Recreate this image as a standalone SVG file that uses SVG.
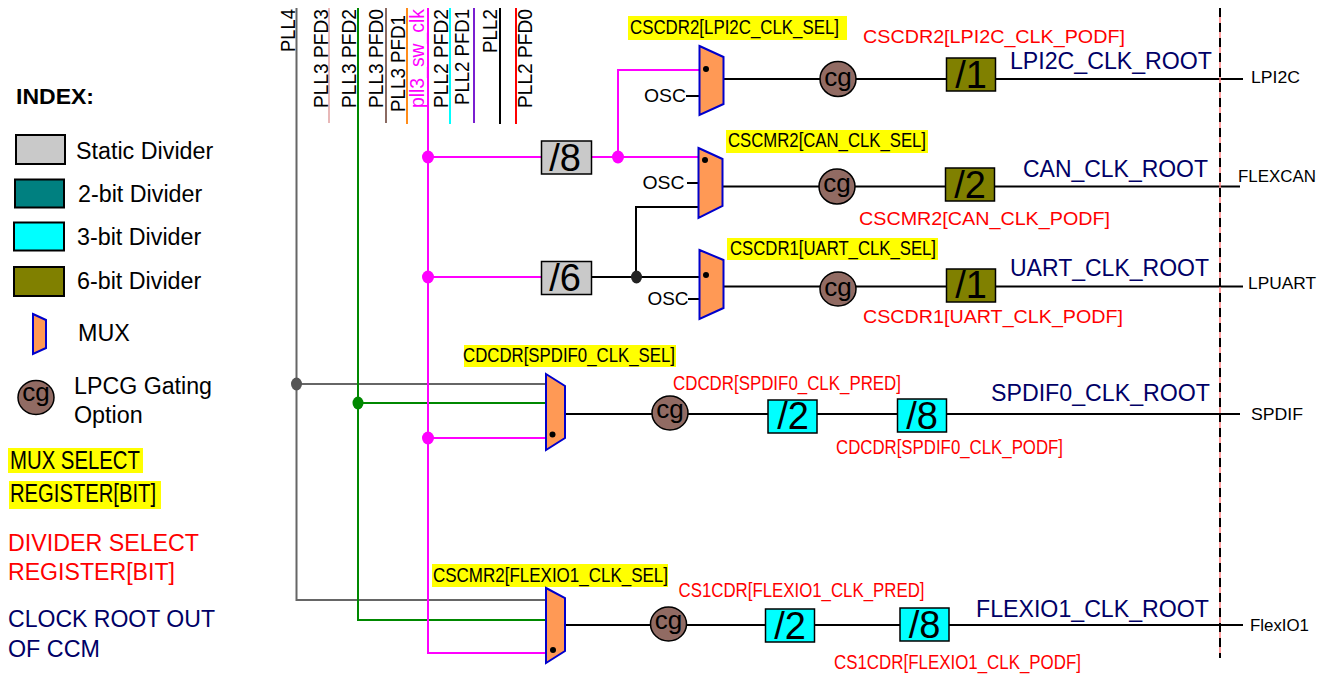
<svg xmlns="http://www.w3.org/2000/svg" width="1328" height="675" viewBox="0 0 1328 675">
<style>
text{font-family:"Liberation Sans",Arial,sans-serif;fill:#000}
.mux{fill:#ff9955;stroke:#0000cc;stroke-width:2}
.cg{fill:#916b63;stroke:#000;stroke-width:1.5}
.cgt{font-size:26px;text-anchor:middle}
.div{stroke:#000;stroke-width:1.5}
.dt{font-size:38px;text-anchor:middle}
.s{fill:#c9c9c9}.o{fill:#808000}.y{fill:#00ffff}
.hl{fill:#ffff00}
.sel{font-size:21px}
.red{font-size:20px;fill:#ff0000}
.root{font-size:23px;fill:#000066}
.out{font-size:17px}
.osc{font-size:19px}
.lg{font-size:23.300px}
.src{font-size:20px}
</style>
<rect width="1328" height="675" fill="#fff"/>
<g id="connectors" fill="none" stroke-width="2">
<path d="M329 8V123" stroke="#e8b8b8"/>
<path d="M386 8V123" stroke="#8a6a62"/>
<path d="M407 8V124" stroke="#ff8c1a"/>
<path d="M450 8V124" stroke="#00ffff"/>
<path d="M474 8V123" stroke="#7a1fd0"/>
<path d="M500 8V124" stroke="#000"/>
<path d="M516 8V124" stroke="#ff0000"/>
<path d="M296.500 8V600H546M297 384H546" stroke="#666"/>
<path d="M358 8V620H546M358 403H546" stroke="#008800"/>
<path d="M428 8V653H546M428 157H541M592 157H698M618 157V70H699M428 277H541M428 438H546" stroke="#ff00ff"/>
<path d="M592 277H699M636 277V207H698" stroke="#000"/>
<path d="M686 96H699M687 183H698M688 299H699" stroke="#000"/>
<path d="M724 79H1243M723 186.500H1240M724 286.500H1243M565 414H1240M566 625H1243" stroke="#000"/>
<path d="M1220 8V658" stroke="#ff8080" stroke-width="1.500"/>
<path d="M1220 8V658" stroke="#000" stroke-dasharray="9 6"/>
<g stroke="none"><ellipse cx="428" cy="157" rx="6" ry="6.500" fill="#ff00ff"/><ellipse cx="618" cy="157" rx="6" ry="6.500" fill="#ff00ff"/><ellipse cx="428" cy="277" rx="6" ry="6.500" fill="#ff00ff"/><ellipse cx="428" cy="438" rx="6" ry="6.500" fill="#ff00ff"/><ellipse cx="636.500" cy="277" rx="5.500" ry="6.500" fill="#222"/><ellipse cx="296.500" cy="384" rx="5.500" ry="6.500" fill="#555"/><ellipse cx="358" cy="403" rx="5.500" ry="6.500" fill="#008800"/></g>
</g>
<g id="sources">
<text class="src" transform="translate(295,52) rotate(-90)" textLength="43" lengthAdjust="spacingAndGlyphs">PLL4</text>
<text class="src" transform="translate(327.500,108) rotate(-90)" textLength="99" lengthAdjust="spacingAndGlyphs">PLL3 PFD3</text>
<text class="src" transform="translate(356,108) rotate(-90)" textLength="99" lengthAdjust="spacingAndGlyphs">PLL3 PFD2</text>
<text class="src" transform="translate(383,108) rotate(-90)" textLength="99" lengthAdjust="spacingAndGlyphs">PLL3 PFD0</text>
<text class="src" transform="translate(405,112) rotate(-90)" textLength="97" lengthAdjust="spacingAndGlyphs">PLL3 PFD1</text>
<text class="src" transform="translate(424,108) rotate(-90)" textLength="99" lengthAdjust="spacingAndGlyphs" style="fill:#ff00ff">pll3_sw_clk</text>
<text class="src" transform="translate(448,108) rotate(-90)" textLength="99" lengthAdjust="spacingAndGlyphs">PLL2 PFD2</text>
<text class="src" transform="translate(469,105) rotate(-90)" textLength="96" lengthAdjust="spacingAndGlyphs">PLL2 PFD1</text>
<text class="src" transform="translate(497,53) rotate(-90)" textLength="44" lengthAdjust="spacingAndGlyphs">PLL2</text>
<text class="src" transform="translate(532,108) rotate(-90)" textLength="99" lengthAdjust="spacingAndGlyphs">PLL2 PFD0</text>
</g>
<g id="static-8"><rect class="div s" x="541.500" y="141" width="50" height="33"/><text class="dt" x="565" y="171">/8</text></g>
<g id="static-6"><rect class="div s" x="541.500" y="261.500" width="50" height="33"/><text class="dt" x="565" y="291">/6</text></g>

<g id="lpi2c">
<rect class="hl" x="628" y="16" width="219" height="24"/>
<text class="sel" x="630" y="34" textLength="209" lengthAdjust="spacingAndGlyphs">CSCDR2[LPI2C_CLK_SEL]</text>
<polygon class="mux" points="699.500,46 723.500,57 723.500,104 699.500,115"/><circle cx="706" cy="69" r="3"/>
<text class="osc" x="644" y="102" textLength="42" lengthAdjust="spacingAndGlyphs">OSC</text>
<ellipse class="cg" cx="838" cy="79" rx="18" ry="17.500"/><text class="cgt" x="838" y="86">cg</text>
<rect class="div o" x="946.500" y="58" width="49" height="33"/><text class="dt" x="971" y="88">/1</text>
<text class="red" style="font-size:19px" x="863" y="43" textLength="262" lengthAdjust="spacingAndGlyphs">CSCDR2[LPI2C_CLK_PODF]</text>
<text class="root" x="1010" y="69" textLength="202" lengthAdjust="spacingAndGlyphs">LPI2C_CLK_ROOT</text>
<text class="out" x="1251" y="83" textLength="49" lengthAdjust="spacingAndGlyphs">LPI2C</text>
</g>
<g id="can">
<rect class="hl" x="726" y="130" width="202" height="23"/>
<text class="sel" x="728" y="147" textLength="198" lengthAdjust="spacingAndGlyphs">CSCMR2[CAN_CLK_SEL]</text>
<polygon class="mux" points="698.500,148 722.500,159 722.500,206 698.500,218"/><circle cx="705" cy="160" r="3"/>
<text class="osc" x="642.500" y="189" textLength="42" lengthAdjust="spacingAndGlyphs">OSC</text>
<ellipse class="cg" cx="837" cy="186.500" rx="18" ry="17.500"/><text class="cgt" x="837" y="192">cg</text>
<rect class="div o" x="945.500" y="168" width="49" height="33"/><text class="dt" x="970" y="198">/2</text>
<text class="red" style="font-size:19px" x="859" y="225" textLength="251" lengthAdjust="spacingAndGlyphs">CSCMR2[CAN_CLK_PODF]</text>
<text class="root" x="1023" y="177" textLength="185" lengthAdjust="spacingAndGlyphs">CAN_CLK_ROOT</text>
<text class="out" x="1238" y="182" textLength="78" lengthAdjust="spacingAndGlyphs">FLEXCAN</text>
</g>
<g id="uart">
<rect class="hl" x="727" y="238" width="211" height="22"/>
<text class="sel" x="730" y="255" textLength="206" lengthAdjust="spacingAndGlyphs">CSCDR1[UART_CLK_SEL]</text>
<polygon class="mux" points="699.500,250 723.500,260 723.500,308 699.500,319"/><circle cx="706" cy="275" r="3"/>
<text class="osc" x="647.500" y="305" textLength="41" lengthAdjust="spacingAndGlyphs">OSC</text>
<ellipse class="cg" cx="838" cy="289" rx="18" ry="17"/><text class="cgt" x="838" y="296">cg</text>
<rect class="div o" x="946.500" y="269" width="49" height="33"/><text class="dt" x="971" y="298">/1</text>
<text class="red" style="font-size:19px" x="863" y="323" textLength="260" lengthAdjust="spacingAndGlyphs">CSCDR1[UART_CLK_PODF]</text>
<text class="root" x="1010" y="276" textLength="199" lengthAdjust="spacingAndGlyphs">UART_CLK_ROOT</text>
<text class="out" x="1248" y="289" textLength="68" lengthAdjust="spacingAndGlyphs">LPUART</text>
</g>
<g id="spdif">
<rect class="hl" x="464" y="345" width="212" height="22"/>
<text class="sel" x="463" y="362" textLength="212" lengthAdjust="spacingAndGlyphs">CDCDR[SPDIF0_CLK_SEL]</text>
<polygon class="mux" points="546,374 565,386 565,438 546,450"/><circle cx="552.500" cy="434.500" r="3"/>
<ellipse class="cg" cx="670" cy="413" rx="18" ry="17"/><text class="cgt" x="670" y="418">cg</text>
<rect class="div y" x="768" y="400" width="49" height="33"/><text class="dt" x="793" y="429">/2</text>
<rect class="div y" x="897.500" y="399" width="49" height="33"/><text class="dt" x="922" y="429">/8</text>
<text class="red" x="673" y="390" textLength="228" lengthAdjust="spacingAndGlyphs">CDCDR[SPDIF0_CLK_PRED]</text>
<text class="red" x="836" y="454" textLength="227" lengthAdjust="spacingAndGlyphs">CDCDR[SPDIF0_CLK_PODF]</text>
<text class="root" x="991" y="401" textLength="219" lengthAdjust="spacingAndGlyphs">SPDIF0_CLK_ROOT</text>
<text class="out" x="1251" y="420" textLength="52" lengthAdjust="spacingAndGlyphs">SPDIF</text>
</g>
<g id="flexio">
<rect class="hl" x="432" y="564" width="236" height="23"/>
<text class="sel" x="433" y="582" textLength="235" lengthAdjust="spacingAndGlyphs">CSCMR2[FLEXIO1_CLK_SEL]</text>
<polygon class="mux" points="546,588 565,598 565,651 546,663"/><circle cx="553" cy="650" r="3"/>
<ellipse class="cg" cx="668.500" cy="624" rx="18" ry="17"/><text class="cgt" x="668.500" y="629">cg</text>
<rect class="div y" x="765.500" y="609" width="49" height="33"/><text class="dt" x="790" y="639">/2</text>
<rect class="div y" x="900" y="608" width="49" height="33"/><text class="dt" x="924.500" y="638">/8</text>
<text class="red" x="678.500" y="597" textLength="246" lengthAdjust="spacingAndGlyphs">CS1CDR[FLEXIO1_CLK_PRED]</text>
<text class="red" x="834" y="669" textLength="247" lengthAdjust="spacingAndGlyphs">CS1CDR[FLEXIO1_CLK_PODF]</text>
<text class="root" x="976" y="617" textLength="233" lengthAdjust="spacingAndGlyphs">FLEXIO1_CLK_ROOT</text>
<text class="out" x="1250" y="631" textLength="59" lengthAdjust="spacingAndGlyphs">FlexIO1</text>
</g>
<g id="legend">
<text x="16" y="104" style="font-size:22px;font-weight:bold" textLength="78" lengthAdjust="spacingAndGlyphs">INDEX:</text>
<rect x="16" y="135" width="49" height="29" class="s" stroke="#000" stroke-width="2"/><text class="lg" x="76" y="159">Static Divider</text>
<rect x="15" y="179.500" width="49" height="28" fill="#008080" stroke="#000" stroke-width="2"/><text class="lg" x="78" y="202">2-bit Divider</text>
<rect x="14" y="222.500" width="50" height="28" class="y" stroke="#000" stroke-width="2"/><text class="lg" x="77" y="245">3-bit Divider</text>
<rect x="14" y="267" width="50" height="29" class="o" stroke="#000" stroke-width="2"/><text class="lg" x="77" y="289">6-bit Divider</text>
<polygon class="mux" points="33,314 46,320 46,348 33,354"/><text class="lg" x="78" y="341">MUX</text>
<ellipse class="cg" cx="36" cy="397.500" rx="18" ry="17"/><text class="cgt" x="36" y="401">cg</text>
<text class="lg" x="74" y="394" textLength="138" lengthAdjust="spacingAndGlyphs">LPCG Gating</text><text class="lg" x="74" y="423">Option</text>
<rect class="hl" x="8" y="448" width="135" height="25"/><text style="font-size:26px" x="10" y="469" textLength="130" lengthAdjust="spacingAndGlyphs">MUX SELECT</text>
<rect class="hl" x="9" y="481" width="152" height="28"/><text style="font-size:26px" x="10" y="502" textLength="146" lengthAdjust="spacingAndGlyphs">REGISTER[BIT]</text>
<text class="lg" style="fill:#ff0000" x="8" y="551" textLength="191" lengthAdjust="spacingAndGlyphs">DIVIDER SELECT</text><text class="lg" style="fill:#ff0000" x="8" y="580" textLength="167" lengthAdjust="spacingAndGlyphs">REGISTER[BIT]</text>
<text class="lg" style="fill:#000066" x="8" y="627" textLength="207" lengthAdjust="spacingAndGlyphs">CLOCK ROOT OUT</text><text class="lg" style="fill:#000066" x="8" y="657">OF CCM</text>
</g>
</svg>
